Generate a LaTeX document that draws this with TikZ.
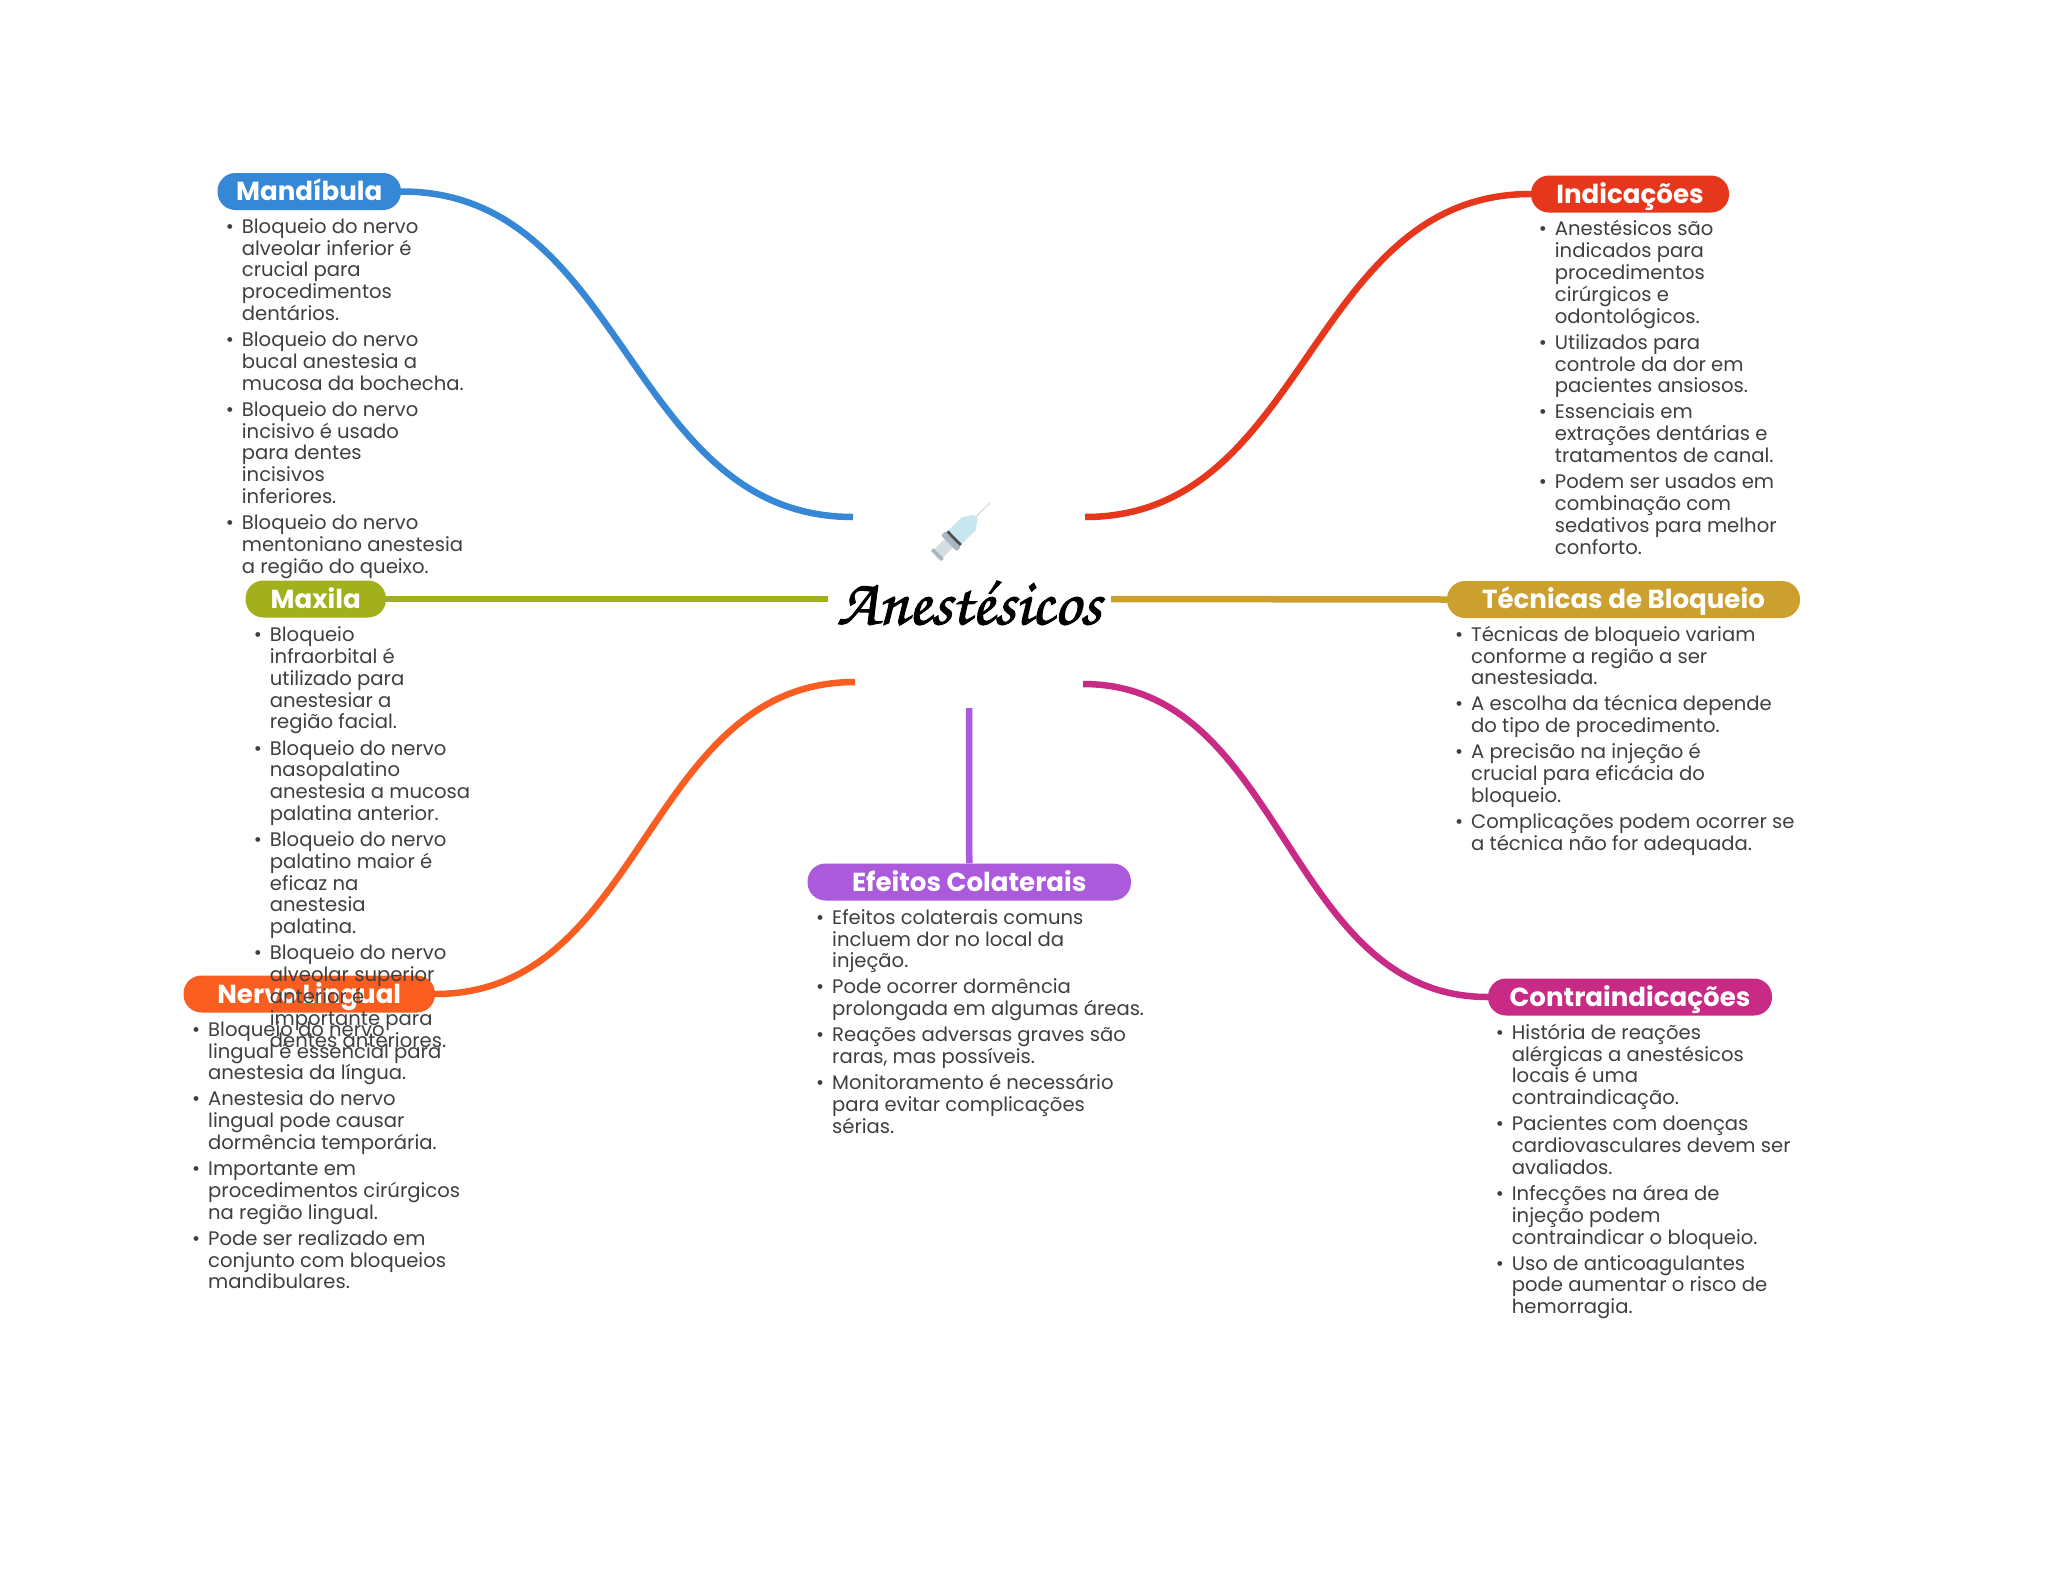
\documentclass[tikz,border=0pt]{standalone}
\usepackage{fontspec}
\setmainfont{Poppins}
\newfontfamily\titlefont[FakeBold=1.6]{TeX Gyre Chorus}
\definecolor{cblue}{HTML}{3687D6}
\definecolor{cred}{HTML}{E6361B}
\definecolor{colive}{HTML}{A2B01C}
\definecolor{cgold}{HTML}{CBA02F}
\definecolor{corange}{HTML}{F95E20}
\definecolor{cmag}{HTML}{C82A86}
\definecolor{cpurple}{HTML}{AB5ADB}
\definecolor{ctext}{HTML}{3F3F3F}
\normallineskiplimit=-100pt
\lineskiplimit=-100pt
\newcommand{\bl}{\rule{0pt}{16pt}\makebox[0pt][r]{•\hspace{8pt}}}
\tikzset{
 pill/.style={rounded corners=18pt,minimum height=37pt,text=white,inner sep=0pt,text height=22pt,text depth=4pt,font=\fontsize{26.1}{30}\selectfont\bfseries},
 body/.style={anchor=north west,inner sep=0pt,align=left,text=ctext,font=\fontsize{19.6}{21.8}\selectfont},
 link/.style={line width=6.5pt},
}
\newcommand{\pillnode}[7]{\node[pill,fill=#2,minimum width=#5pt-#4pt] (#1) at ({(#4+#5)/2},{(#6+#7)/2}) {#3};}
\begin{document}
\begin{tikzpicture}[x=1pt,y=-1pt]
\useasboundingbox (0,0) rectangle (2048,1569);
\fill[white] (0,0) rectangle (2048,1569);
% hub ends
\coordinate (hmand) at (853,517);
\coordinate (hind) at (1085,517);
\coordinate (hmax) at (828,599);
\coordinate (htec) at (1111,599);
\coordinate (hner) at (855,682);
\coordinate (hcon) at (1083,684);
\coordinate (hefe) at (969,708);
% syringe
\definecolor{sgrey}{HTML}{A9B8C0}
\definecolor{srod}{HTML}{D3DDE2}
\definecolor{sbar}{HTML}{C8E6EF}
\begin{scope}[shift={(936,556)},rotate=44.5]
\fill[sgrey,rounded corners=1pt] (0,-7.5) rectangle (4,7.5);
\fill[srod] (4,-6) rectangle (18,6);
\fill[sgrey,rounded corners=1pt] (18,-11) rectangle (24,11);
\fill[black!70] (24,-9.5) rectangle (27,9.5);
\fill[sbar] (27,-9.5) -- (46,-9.5) -- (56,-2.5) -- (56,2.5) -- (46,9.5) -- (27,9.5) -- cycle;
\draw[gray!30,line width=1.2pt] (56,0) -- (76,0);
\end{scope}
% pills
\pillnode{ner}{corange}{Nervo Lingual}{183.5}{435}{975}{1013}
\pillnode{mand}{cblue}{Mandíbula}{217.5}{401}{173}{210}
\pillnode{ind}{cred}{Indicações}{1531}{1729}{175}{213}
\pillnode{max}{colive}{Maxila}{245.5}{386}{580}{618}
\pillnode{tec}{cgold}{Técnicas de Bloqueio}{1447}{1800}{581}{618}
\pillnode{con}{cmag}{Contraindicações}{1488}{1772}{978}{1016}
\pillnode{efe}{cpurple}{Efeitos Colaterais}{807.5}{1131}{863}{901}
% connectors
\draw[link,cblue] (hmand) .. controls (627,517) and (627,191) .. (mand.east);
\draw[link,cred] (hind) .. controls (1308,517) and (1308,194) .. (ind.west);
\draw[link,colive] (hmax) -- (max.east);
\draw[link,cgold] (htec) -- (tec.west);
\draw[link,corange] (hner) .. controls (645,682) and (645,994) .. (ner.east);
\draw[link,cmag] (hcon) .. controls (1285,684) and (1285,997) .. (con.west);
\draw[link,cpurple] (hefe) -- (efe.north);
% title
\node[inner sep=0pt,text=black,font=\fontsize{66}{66}\selectfont\titlefont] (title) at (969,603) {Anestésicos};
% lists
\node[body] (lmand) at (241.7,217) {\bl Bloqueio do nervo\\alveolar inferior é\\crucial para\\procedimentos\\dentários.\\[4.3pt]
\bl Bloqueio do nervo\\bucal anestesia a\\mucosa da bochecha.\\[4.3pt]
\bl Bloqueio do nervo\\incisivo é usado\\para dentes\\incisivos\\inferiores.\\[4.3pt]
\bl Bloqueio do nervo\\mentoniano anestesia\\a região do queixo.};
\node[body] (lner) at (208,1020) {\bl Bloqueio do nervo\\lingual é essencial para\\anestesia da língua.\\[4.3pt]
\bl Anestesia do nervo\\lingual pode causar\\dormência temporária.\\[4.3pt]
\bl Importante em\\procedimentos cirúrgicos\\na região lingual.\\[4.3pt]
\bl Pode ser realizado em\\conjunto com bloqueios\\mandibulares.};
\node[body] (lmax) at (269.7,625.5) {\bl Bloqueio\\infraorbital é\\utilizado para\\anestesiar a\\região facial.\\[4.3pt]
\bl Bloqueio do nervo\\nasopalatino\\anestesia a mucosa\\palatina anterior.\\[4.3pt]
\bl Bloqueio do nervo\\palatino maior é\\eficaz na\\anestesia\\palatina.\\[4.3pt]
\bl Bloqueio do nervo\\alveolar superior\\anterior é\\importante para\\dentes anteriores.};
\node[body] (lind) at (1554.7,219.7) {\bl Anestésicos são\\indicados para\\procedimentos\\cirúrgicos e\\odontológicos.\\[4.3pt]
\bl Utilizados para\\controle da dor em\\pacientes ansiosos.\\[4.3pt]
\bl Essenciais em\\extrações dentárias e\\tratamentos de canal.\\[4.3pt]
\bl Podem ser usados em\\combinação com\\sedativos para melhor\\conforto.};
\node[body] (ltec) at (1471,625) {\bl Técnicas de bloqueio variam\\conforme a região a ser\\anestesiada.\\[4.3pt]
\bl A escolha da técnica depende\\do tipo de procedimento.\\[4.3pt]
\bl A precisão na injeção é\\crucial para eficácia do\\bloqueio.\\[4.3pt]
\bl Complicações podem ocorrer se\\a técnica não for adequada.};
\node[body] (lcon) at (1511.7,1023) {\bl História de reações\\alérgicas a anestésicos\\locais é uma\\contraindicação.\\[4.3pt]
\bl Pacientes com doenças\\cardiovasculares devem ser\\avaliados.\\[4.3pt]
\bl Infecções na área de\\injeção podem\\contraindicar o bloqueio.\\[4.3pt]
\bl Uso de anticoagulantes\\pode aumentar o risco de\\hemorragia.};
\node[body] (lefe) at (832,908) {\bl Efeitos colaterais comuns\\incluem dor no local da\\injeção.\\[4.3pt]
\bl Pode ocorrer dormência\\prolongada em algumas áreas.\\[4.3pt]
\bl Reações adversas graves são\\raras, mas possíveis.\\[4.3pt]
\bl Monitoramento é necessário\\para evitar complicações\\sérias.};
\end{tikzpicture}
\end{document}
